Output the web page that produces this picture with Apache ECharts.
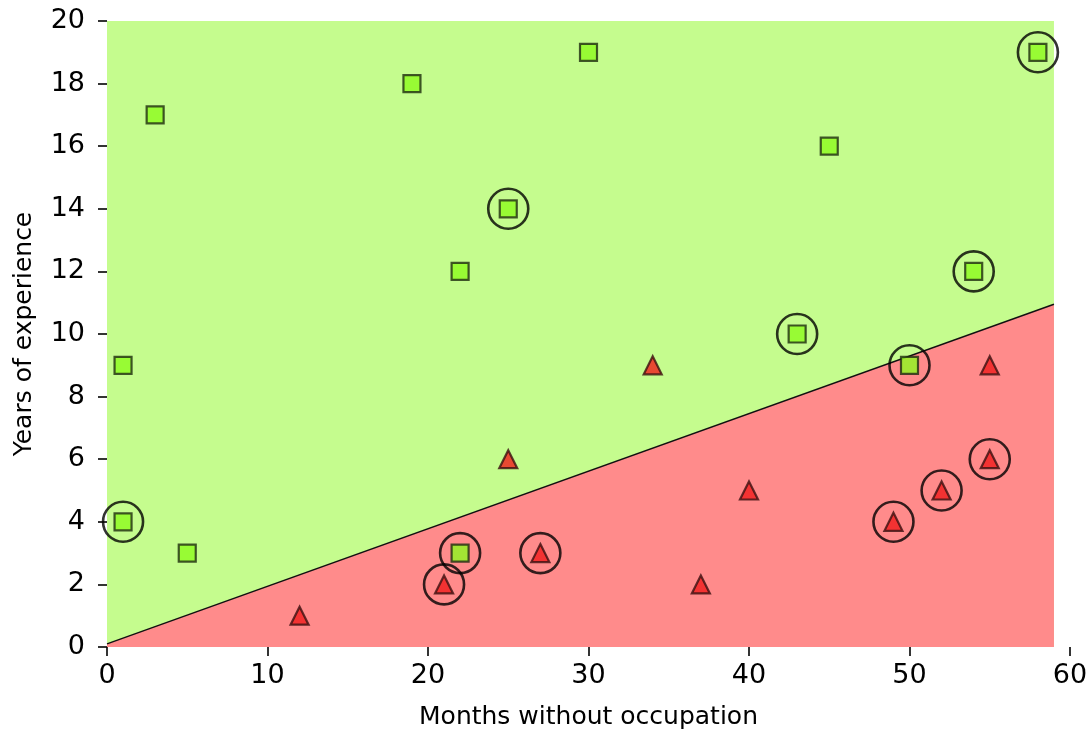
<!DOCTYPE html>
<html><head><meta charset="utf-8">
<script src="https://cdn.jsdelivr.net/npm/echarts@6/dist/echarts.min.js"></script>
<style>html,body{margin:0;padding:0;background:#fff}#c{width:1091px;height:732px}</style>
</head><body><div id="c"></div>
<script>
// Data
const greenX = [1, 1, 3, 5, 19, 22, 22, 25, 30, 43, 45, 50, 54, 58];
const greenY = [9, 4, 17, 3, 18, 12, 3, 14, 19, 10, 16, 9, 12, 19];
const redX = [12, 21, 25, 27, 34, 37, 40, 49, 52, 55, 55];
const redY = [1, 2, 6, 3, 9, 2, 5, 4, 5, 6, 9];
const svX = [1, 22, 25, 43, 50, 54, 58, 21, 27, 49, 52, 55];
const svY = [4, 3, 14, 10, 9, 12, 19, 2, 3, 4, 5, 6];
const boundaryX = [0, 59];
const boundaryY = [0.1, 10.95];
const regionXMax = 59;
const regionYMax = 20;
const xTicks = [0, 10, 20, 30, 40, 50, 60];
const yTicks = [0, 2, 4, 6, 8, 10, 12, 14, 16, 18, 20];

const FONT = 'DejaVu Sans';
const chart = echarts.init(document.getElementById('c'), null, {renderer: 'canvas'});

function polySeries(pointsFn, color, z) {
  return {
    type: 'custom', z: z, silent: true,
    data: [[0, 0]],
    renderItem: function (params, api) {
      const pts = pointsFn().map(p => api.coord(p));
      return {type: 'polygon', shape: {points: pts}, style: {fill: color, stroke: null}};
    }
  };
}

chart.setOption({
  animation: false,
  grid: {left: 107, right: 21, top: 21, bottom: 85, containLabel: false, outerBoundsMode: 'none'},
  xAxis: {
    type: 'value', min: 0, max: 60, interval: 10,
    name: 'Months without occupation', nameLocation: 'middle', nameGap: 58,
    nameTextStyle: {fontFamily: FONT, fontSize: 25, color: '#000'},
    axisLine: {show: false},
    axisTick: {show: true, length: 9, lineStyle: {color: '#000', width: 1.6}},
    axisLabel: {fontFamily: FONT, fontSize: 27, color: '#000', margin: 15,
      formatter: v => xTicks.includes(v) ? String(v) : ''},
    splitLine: {show: false}
  },
  yAxis: {
    type: 'value', min: 0, max: 20, interval: 2,
    name: 'Years of experience', nameLocation: 'middle', nameGap: 70, nameRotate: 90,
    nameTextStyle: {fontFamily: FONT, fontSize: 25, color: '#000'},
    axisLine: {show: false},
    axisTick: {show: true, length: 9, lineStyle: {color: '#000', width: 1.6}},
    axisLabel: {fontFamily: FONT, fontSize: 27, color: '#000', margin: 22,
      formatter: v => yTicks.includes(v) ? String(v) : ''},
    splitLine: {show: false}
  },
  series: [
    polySeries(() => [[0, 0], [regionXMax, 0], [regionXMax, regionYMax], [0, regionYMax]], '#c5fc8e', 1),
    polySeries(() => [[boundaryX[0], 0], [boundaryX[0], boundaryY[0]], [boundaryX[1], boundaryY[1]], [boundaryX[1], 0]], '#ff8b8b', 2),
    {
      type: 'line', z: 3, silent: true, symbol: 'none',
      data: boundaryX.map((x, i) => [x, boundaryY[i]]),
      lineStyle: {color: '#111', width: 1.4}
    },
    {
      type: 'scatter', z: 4, symbol: 'rect', symbolSize: 17,
      data: greenX.map((x, i) => [x, greenY[i]]),
      itemStyle: {color: '#8cfa1e', borderColor: '#1e2a10', borderWidth: 2.2}
    },
    {
      type: 'scatter', z: 4, symbol: 'triangle', symbolSize: 18,
      data: redX.map((x, i) => [x, redY[i]]),
      itemStyle: {color: '#f01c1c', borderColor: '#3a1010', borderWidth: 2.2}
    },
    {
      type: 'scatter', z: 5, symbol: 'circle', symbolSize: 40,
      data: svX.map((x, i) => [x, svY[i]]),
      itemStyle: {color: 'rgba(0,0,0,0)', borderColor: '#000', borderWidth: 2.6}
    }
  ]
});
</script></body></html>
